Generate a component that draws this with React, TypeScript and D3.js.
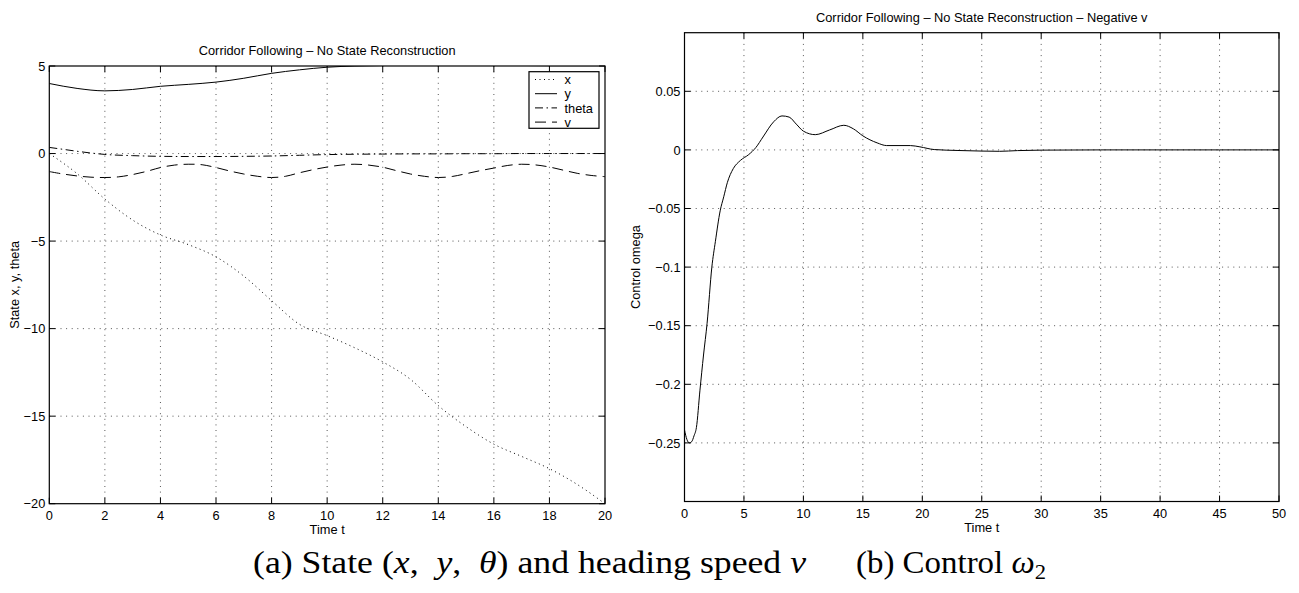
import React from "react";
import * as d3 from "d3";

// ---------- data: left chart (state and heading speed) ----------
const leftTimes = [0, 1, 2, 3, 4, 5, 6, 7, 8, 9, 10, 11, 12, 13, 14, 15, 16, 17, 18, 19, 20];
const xState = [0, -1.15, -2.6, -3.8, -4.65, -5.2, -5.9, -7.0, -8.4, -9.75, -10.4, -11.1, -11.9, -12.9, -14.4, -15.6, -16.6, -17.3, -18.0, -18.9, -20];
const yState = [4.0, 3.72, 3.58, 3.66, 3.84, 3.95, 4.08, 4.3, 4.58, 4.78, 4.93, 5.0, 5.03, 5.05, 5.05, 5.04, 5.03, 5.03, 5.02, 5.02, 5.02];
const thetaTimes = [0, 0.5, 1, 1.5, 2, 3, 4, 5, 6, 7, 8, 9, 10, 11, 12, 13, 14, 15, 16, 17, 18, 19, 20];
const thetaState = [0.35, 0.24, 0.13, 0.03, -0.05, -0.12, -0.16, -0.17, -0.17, -0.16, -0.14, -0.1, -0.06, -0.04, -0.03, -0.02, -0.02, -0.01, -0.01, 0, 0, 0, 0];
const vTimes = [0, 0.5, 1, 1.5, 2, 2.5, 3, 3.5, 4, 4.5, 5, 5.5, 6, 6.5, 7, 7.5, 8, 8.5, 9, 9.5, 10, 10.5, 11, 11.5, 12, 12.5, 13, 13.5, 14, 14.5, 15, 15.5, 16, 16.5, 17, 17.5, 18, 18.5, 19, 19.5, 20];
const vSpeed = [-1.03, -1.17, -1.28, -1.35, -1.37, -1.33, -1.2, -1.02, -0.8, -0.66, -0.61, -0.64, -0.8, -1.0, -1.17, -1.3, -1.37, -1.3, -1.1, -0.92, -0.77, -0.66, -0.61, -0.66, -0.78, -0.98, -1.17, -1.3, -1.37, -1.31, -1.15, -0.98, -0.83, -0.68, -0.61, -0.65, -0.77, -0.95, -1.13, -1.25, -1.32];
const leftXTicks = [0, 2, 4, 6, 8, 10, 12, 14, 16, 18, 20];
const leftYTicks = [-20, -15, -10, -5, 0, 5];
const legendLabels = ["x", "y", "theta", "v"];

// ---------- data: right chart (control omega) ----------
const omegaTimes = [0, 0.2, 0.4, 0.6, 0.8, 1.0, 1.3, 1.6, 1.9, 2.3, 2.6, 3.0, 3.3, 3.6, 4.1, 4.7, 5.4, 6.0, 6.6, 7.5, 8.2, 8.8, 9.4, 10.0, 11.0, 12.2, 13.4, 14.2, 15.0, 16.2, 17.0, 19.0, 19.8, 21.0, 23.0, 25.0, 26.5, 28.0, 30.0, 35.0, 40.0, 45.0, 50.0];
const omegaControl = [-0.239, -0.247, -0.25, -0.249, -0.244, -0.237, -0.205, -0.175, -0.148, -0.1, -0.078, -0.052, -0.04, -0.028, -0.016, -0.009, -0.004, 0.002, 0.011, 0.024, 0.029, 0.028, 0.022, 0.016, 0.013, 0.017, 0.021, 0.018, 0.012, 0.006, 0.0037, 0.0037, 0.0026, 0.0003, -0.0005, -0.001, -0.0012, -0.0006, -0.0002, 0, 0, 0, 0];
const rightXTicks = [0, 5, 10, 15, 20, 25, 30, 35, 40, 45, 50];
const rightYTicks = [-0.25, -0.2, -0.15, -0.1, -0.05, 0, 0.05];

const SANS = "'Liberation Sans', Arial, Helvetica, sans-serif";
const SERIF = "'Liberation Serif', 'Times New Roman', serif";
const FS = 12.8;

const fmt = (v: number) => String(+v.toFixed(3)).replace("-", "\u2212");

type Series = { t: number[]; v: number[]; dash?: string; curve?: any };

function Plot(props: {
  id: string;
  box: { x0: number; x1: number; y0: number; y1: number };
  xDomain: [number, number];
  yDomain: [number, number];
  xTicks: number[];
  yTicks: number[];
  series: Series[];
  title: string;
  xlabel: string;
  ylabel: string;
  ylabelX: number;
  legend?: boolean;
}) {
  const { box, series } = props;
  const xs = d3.scaleLinear().domain(props.xDomain).range([box.x0, box.x1]);
  const ys = d3.scaleLinear().domain(props.yDomain).range([box.y1, box.y0]);
  const tick = 6;
  const gridDash = "1,4.6";
  const cx = (box.x0 + box.x1) / 2;
  const cy = (box.y0 + box.y1) / 2;
  return (
    <g>
      <defs>
        <clipPath id={props.id}>
          <rect x={box.x0} y={box.y0} width={box.x1 - box.x0} height={box.y1 - box.y0} />
        </clipPath>
      </defs>
      {props.xTicks
        .filter((t) => xs(t) > box.x0 + 1 && xs(t) < box.x1 - 1)
        .map((t) => (
          <line key={"gx" + t} x1={xs(t)} x2={xs(t)} y1={box.y0} y2={box.y1} stroke="#444" strokeWidth={0.9} strokeDasharray={gridDash} />
        ))}
      {props.yTicks
        .filter((t) => ys(t) > box.y0 + 1 && ys(t) < box.y1 - 1)
        .map((t) => (
          <line key={"gy" + t} x1={box.x0} x2={box.x1} y1={ys(t)} y2={ys(t)} stroke="#444" strokeWidth={0.9} strokeDasharray={gridDash} />
        ))}
      <g clipPath={`url(#${props.id})`}>
        {series.map((s, i) => {
          const pts = s.t.map((t, j) => [t, s.v[j]] as [number, number]);
          const gen = d3
            .line<[number, number]>()
            .x((d) => xs(d[0]))
            .y((d) => ys(d[1]))
            .curve(s.curve || d3.curveMonotoneX);
          return <path key={i} d={gen(pts) || ""} fill="none" stroke="#000" strokeWidth={1} strokeDasharray={s.dash} />;
        })}
      </g>
      <rect x={box.x0} y={box.y0} width={box.x1 - box.x0} height={box.y1 - box.y0} fill="none" stroke="#000" strokeWidth={1.2} />
      {props.xTicks.map((t) => (
        <g key={"tx" + t}>
          <line x1={xs(t)} x2={xs(t)} y1={box.y1} y2={box.y1 - tick} stroke="#000" strokeWidth={1} />
          <line x1={xs(t)} x2={xs(t)} y1={box.y0} y2={box.y0 + tick} stroke="#000" strokeWidth={1} />
          <text x={xs(t)} y={box.y1 + 16} textAnchor="middle" fontFamily={SANS} fontSize={FS}>
            {fmt(t)}
          </text>
        </g>
      ))}
      {props.yTicks.map((t) => (
        <g key={"ty" + t}>
          <line x1={box.x0} x2={box.x0 + tick} y1={ys(t)} y2={ys(t)} stroke="#000" strokeWidth={1} />
          <line x1={box.x1} x2={box.x1 - tick} y1={ys(t)} y2={ys(t)} stroke="#000" strokeWidth={1} />
          <text x={box.x0 - 4} y={ys(t)} dy="0.36em" textAnchor="end" fontFamily={SANS} fontSize={FS}>
            {fmt(t)}
          </text>
        </g>
      ))}
      <text x={cx} y={box.y0 - 11} textAnchor="middle" fontFamily={SANS} fontSize={FS}>
        {props.title}
      </text>
      <text x={cx} y={box.y1 + 30} textAnchor="middle" fontFamily={SANS} fontSize={FS}>
        {props.xlabel}
      </text>
      <text transform={`translate(${props.ylabelX},${cy}) rotate(-90)`} textAnchor="middle" fontFamily={SANS} fontSize={FS}>
        {props.ylabel}
      </text>
      {props.legend && (
        <g>
          <rect x={529} y={71.7} width={70} height={56.6} fill="#fff" stroke="#000" strokeWidth={1.2} />
          {legendLabels.map((lab, i) => {
            const yy = 79.5 + i * 14.2;
            return (
              <g key={lab}>
                <line x1={535} x2={557} y1={yy} y2={yy} stroke="#000" strokeWidth={1} strokeDasharray={series[i].dash} />
                <text x={564.5} y={yy} dy="0.36em" fontFamily={SANS} fontSize={FS}>
                  {lab}
                </text>
              </g>
            );
          })}
        </g>
      )}
    </g>
  );
}

export default function App() {
  const leftSeries: Series[] = [
    { t: leftTimes, v: xState, dash: "1,3.5" },
    { t: leftTimes, v: yState },
    { t: thetaTimes, v: thetaState, dash: "8,3.5,1.5,3.5" },
    { t: vTimes, v: vSpeed, dash: "11,6", curve: d3.curveCatmullRom },
  ];
  const rightSeries: Series[] = [{ t: omegaTimes, v: omegaControl }];
  return (
    <svg width={1299} height={593} style={{ position: "absolute", left: 0, top: 0, background: "#fff" }}>
      <rect x={0} y={0} width={1299} height={593} fill="#fff" />
      <Plot
        id="clipL"
        box={{ x0: 49.3, x1: 605, y0: 66, y1: 503.7 }}
        xDomain={[0, 20]}
        yDomain={[-20, 5]}
        xTicks={leftXTicks}
        yTicks={leftYTicks}
        series={leftSeries}
        title="Corridor Following – No State Reconstruction"
        xlabel="Time t"
        ylabel="State x, y, theta"
        ylabelX={18.5}
        legend
      />
      <Plot
        id="clipR"
        box={{ x0: 684.5, x1: 1279, y0: 32.7, y1: 501.5 }}
        xDomain={[0, 50]}
        yDomain={[-0.3, 0.1]}
        xTicks={rightXTicks}
        yTicks={rightYTicks}
        series={rightSeries}
        title="Corridor Following – No State Reconstruction – Negative v"
        xlabel="Time t"
        ylabel="Control omega"
        ylabelX={639.5}
      />
      <text x={253} y={573} fontFamily={SERIF} fontSize={32} textLength={553} lengthAdjust="spacingAndGlyphs" style={{ whiteSpace: "pre" }}>
        {"(a) State ("}
        <tspan fontStyle="italic">x</tspan>
        {",  "}
        <tspan fontStyle="italic">y</tspan>
        {",  "}
        <tspan fontStyle="italic">θ</tspan>
        {") and heading speed "}
        <tspan fontStyle="italic">v</tspan>
      </text>
      <text x={856} y={573} fontFamily={SERIF} fontSize={32} textLength={190} lengthAdjust="spacingAndGlyphs" style={{ whiteSpace: "pre" }}>
        {"(b) Control "}
        <tspan fontStyle="italic">ω</tspan>
        <tspan fontSize={22} dy={6}>2</tspan>
      </text>
    </svg>
  );
}
